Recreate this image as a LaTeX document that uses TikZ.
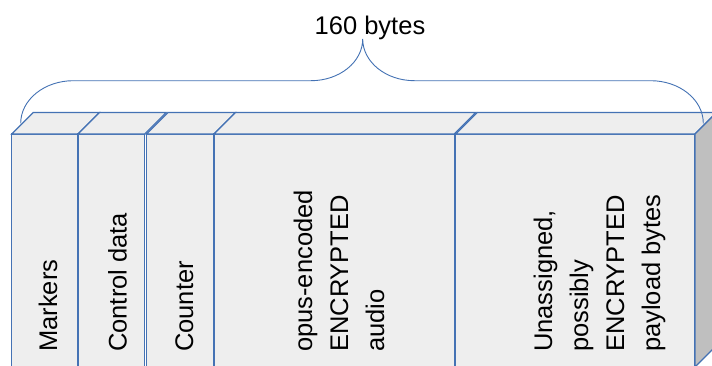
\documentclass[tikz,border=0pt]{standalone}
\usepackage{fontspec}
\setmainfont{Liberation Sans}
\definecolor{edge}{RGB}{68,114,180}
\definecolor{face}{RGB}{238,238,238}
\definecolor{sideface}{RGB}{191,191,191}
\begin{document}
\begin{tikzpicture}[x=1pt,y=-1pt,
  lbl/.style={rotate=90,anchor=base west,inner sep=0pt,font=\fontsize{25.5}{30}\selectfont},
  edgeline/.style={draw=edge,line width=1.2pt,line join=miter},
  bracestyle/.style={draw=edge,line width=0.9pt}
]
\useasboundingbox (0,0) rectangle (712,365);
\clip (0,0) rectangle (712,365);
\fill[white] (0,0) rectangle (712,365);
% cuboid segments
\foreach \a/\b in {11.7/78, 78/144.6, 146.4/214, 214/454.2, 455.8/695} {
  \filldraw[edgeline,fill=face] (\a,367) -- (\a,134) -- (\b,134) -- (\b,367) -- cycle;
  \filldraw[edgeline,fill=face] (\a,134) -- (\a+21.5,112.5) -- (\b+21.5,112.5) -- (\b,134) -- cycle;
}
\filldraw[edgeline,fill=sideface] (695,134) -- (716.5,112.5) -- (716.5,345.5) -- (695,367) -- cycle;
% brace
\draw[bracestyle] (20.7,123.3) .. controls (20.7,99.8) and (44.3,80.7) .. (73.3,80.7)
  -- (311,80.7) .. controls (339.5,80.7) and (362.7,62) .. (362.7,39)
  .. controls (362.7,62) and (385.9,80.7) .. (414.4,80.7)
  -- (650.7,80.7) .. controls (679.7,80.7) and (703.3,99.8) .. (703.3,123.3);
\node[font=\fontsize{25.5}{30}\selectfont,anchor=base,inner sep=0pt] (total) at (370,34.3) {160 bytes};
% labels
\node[lbl] (markers) at (57,352) {Markers};
\node[lbl] (control) at (126.5,352) {Control data};
\node[lbl] (counter) at (193,352) {Counter};
\node[lbl] (opusA) at (312,352) {opus-encoded};
\node[lbl] (opusB) at (348,352) {ENCRYPTED};
\node[lbl] (opusC) at (384,352) {audio};
\node[lbl] (unA) at (552,352) {Unassigned,};
\node[lbl] (unB) at (588,352) {possibly};
\node[lbl] (unC) at (624,352) {ENCRYPTED};
\node[lbl] (unD) at (660,352) {payload bytes};
\end{tikzpicture}
\end{document}
